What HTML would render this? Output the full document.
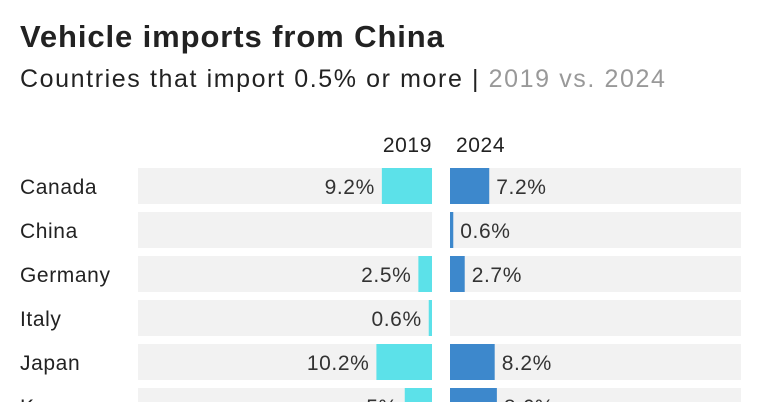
<!DOCTYPE html>
<html><head><meta charset="utf-8"><style>
html,body{margin:0;width:768px;height:402px;overflow:hidden;background:#fff;font-family:"Liberation Sans",sans-serif;color:#222;}
#t{position:absolute;left:20px;top:19px;font-size:31px;font-weight:bold;margin:0;letter-spacing:0.9px;white-space:nowrap}
#s{position:absolute;left:20px;top:65px;font-size:25px;color:#222;letter-spacing:1.6px;white-space:nowrap}
#s span{color:#999}
svg{position:absolute;left:0;top:0}
svg text{letter-spacing:0.6px}
</style></head><body>
<h1 id="t">Vehicle imports from China</h1>
<div id="s">Countries that import 0.5% or more | <span>2019 vs. 2024</span></div>
<svg id="c" width="768" height="402"></svg>
<script>
const countries=["Canada","China","Germany","Italy","Japan","Korea"];
const v2019=[9.2,null,2.5,0.6,10.2,5];
const v2024=[7.2,0.6,2.7,null,8.2,8.6];
const labels2019=["9.2%","","2.5%","0.6%","10.2%","5%"];
const labels2024=["7.2%","0.6%","2.7%","","8.2%","8.6%"];
const svg=document.getElementById('c');const NS='http://www.w3.org/2000/svg';
const L0=432,R0=450,k=5.45,top0=168,pitch=44,h=36;
const yOf=i=>top0+i*pitch;
const xl=v=>L0-v*k, xr=v=>R0+v*k;
function mk(t,a,txt){const e=document.createElementNS(NS,t);for(const n in a)e.setAttribute(n,a[n]);if(txt!==undefined)e.textContent=txt;svg.appendChild(e);return e;}
let e=mk('text',{x:L0,y:152,'text-anchor':'end','font-size':21,fill:'#222','font-family':'Liberation Sans'},'2019');


e=mk('text',{x:R0+6,y:152,'font-size':21,fill:'#222','font-family':'Liberation Sans'},'2024');


countries.forEach((c,i)=>{
 const y=yOf(i);
 e=mk('rect',{x:138,y:y,width:L0-138,height:h,fill:'#f2f2f2'});
 
 
 e=mk('rect',{x:R0,y:y,width:741-R0,height:h,fill:'#f2f2f2'});
 
 
 e=mk('text',{x:20,y:y+26,'font-size':21,fill:'#222','font-family':'Liberation Sans'},c);
 
 
 if(v2019[i]!=null){
  e=mk('rect',{x:xl(v2019[i]),y:y,width:v2019[i]*k,height:h,fill:'#5ce1e9'});
  
  
  e=mk('text',{x:xl(v2019[i])-7,y:y+26,'text-anchor':'end','font-size':21,fill:'#333','font-family':'Liberation Sans'},labels2019[i]);
  
  
 }
 if(v2024[i]!=null){
  e=mk('rect',{x:R0,y:y,width:v2024[i]*k,height:h,fill:'#3d88cc'});
  
  
  e=mk('text',{x:xr(v2024[i])+7,y:y+26,'font-size':21,fill:'#333','font-family':'Liberation Sans'},labels2024[i]);
  
  
 }
});
</script>
</body></html>
